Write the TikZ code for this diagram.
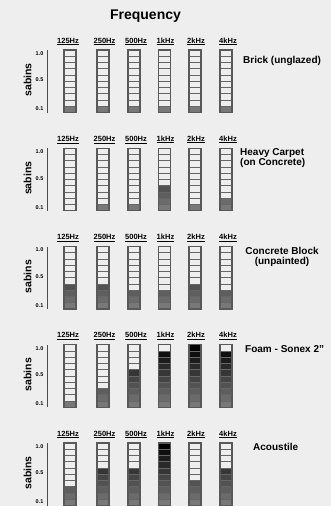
\documentclass[tikz,border=0pt]{standalone}
\usepackage{fontspec}
\setmainfont{Liberation Sans}
\definecolor{paper}{RGB}{238,238,238}

\begin{document}
\begin{tikzpicture}
  [x=1pt,y=-1pt,every node/.style={inner sep=0pt},
   hz/.style={anchor=base,font=\fontsize{7.5}{9}\selectfont\bfseries},
   tick/.style={font=\fontsize{5.5}{6}\selectfont\bfseries},
   unit/.style={rotate=90,font=\fontsize{10.5}{12}\selectfont\bfseries},
   material/.style={font=\fontsize{10}{10.5}\selectfont\bfseries},
   barline/.style={black!65,line width=1.1pt}]
  \fill[paper] (0,0) rectangle (331,506);
  \useasboundingbox (0,0) rectangle (331,506);
  \node[anchor=base,font=\fontsize{14}{16}\selectfont\bfseries] (title) at (145.5,19.5) {Frequency};

  \foreach \pn/\ytop/\fills in {1/50/{1,1,1,1,1,1},2/148.25/{0,1,1,4,1,2},3/246.5/{4,4,3,3,4,3},4/344.75/{1,3,6,9,10,9},5/443/{3,6,6,10,4,6}}
  {
    % scale
    \draw[black!70,line width=0.8pt] (47,\ytop) -- (47,\ytop+62.5);
    \node[tick] (ta\pn) at (39.5,\ytop+3.5) {1.0};
    \node[tick] (tb\pn) at (39.5,\ytop+30)  {0.5};
    \node[tick] (tc\pn) at (39.5,\ytop+59)  {0.1};
    \node[unit] (sab\pn) at (27.5,\ytop+30) {sabins};
    \foreach \lx/\hz [count=\b] in {68/125Hz,104.5/250Hz,136/500Hz,165.5/1kHz,196/2kHz,228/4kHz}
      \node[hz] (hz\pn-\b) at (\lx,\ytop-7) {\underline{\hz}};
    % bars
    \foreach \n [count=\b] in \fills {
      \pgfmathsetmacro\bx{{70,103,134,164.5,195,226}[\b-1]}
      \foreach \s in {1,...,10} {
        \ifnum\s>\n\else
          \pgfmathtruncatemacro\shade{48+5.2*\s}
          \fill[black!\shade] (\bx-6,\ytop+62.5-6.25*\s) rectangle (\bx+6,\ytop+68.75-6.25*\s);
        \fi
      }
      \foreach \s in {1,...,9}
        \draw[black!60,line width=0.6pt] (\bx-6,\ytop+6.25*\s) -- (\bx+6,\ytop+6.25*\s);
      \draw[barline] (\bx-6,\ytop) rectangle (\bx+6,\ytop+62.5);
    }
  }

  \node[material,anchor=base west] (brick) at (243,63) {Brick (unglazed)};
  \node[material,anchor=west,align=left] (carpet) at (240,158) {Heavy Carpet\\(on Concrete)};
  \node[material,align=center] (block) at (282,257) {Concrete Block\\(unpainted)};
  \node[material,anchor=base west] (foam) at (245,352.5) {Foam - Sonex 2"};
  \node[material,anchor=base west] (tile) at (253,450) {Acoustile};
\end{tikzpicture}
\end{document}
